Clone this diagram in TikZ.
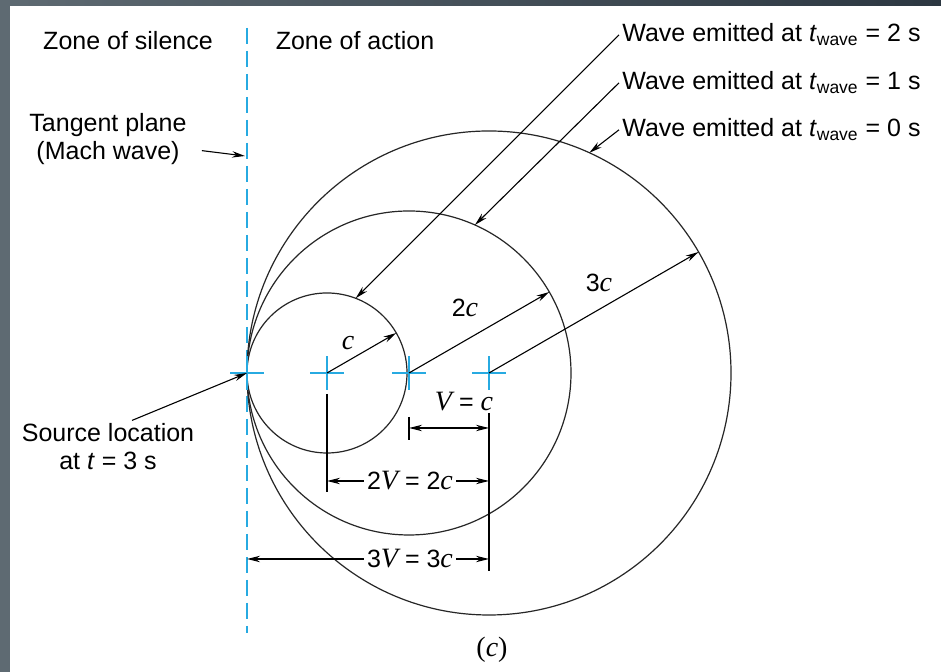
\documentclass[tikz,border=0pt]{standalone}
\usepackage{fontspec}
\setmainfont{Liberation Sans}
\newfontfamily\varfont[Scale=1.12]{Liberation Serif}
\usepackage{xcolor}
\definecolor{machblue}{HTML}{27AAE1}
\definecolor{frameL}{HTML}{5E6A72}
\definecolor{frameR}{HTML}{2C3741}
\usepackage{tikz}
\usetikzlibrary{arrows.meta, positioning, calc}
\newcommand{\symc}{{\varfont\itshape c}}
\newcommand{\symV}{{\varfont\itshape V}}
\newcommand{\twave}{\textit{t}\textsubscript{wave}}

\begin{document}
\begin{tikzpicture}[x=0.5pt, y=0.5pt, >={Stealth[length=6.5pt, width=3.2pt]},
    lbl/.style={font=\fontsize{12.5}{14}\selectfont, inner sep=1.5pt},
    wavefront/.style={draw=black!85, line width=0.6pt},
    radarrow/.style={->, line width=0.55pt},
    leader/.style={->, line width=0.55pt},
    dimline/.style={line width=0.65pt},
    srcmark/.style={draw=machblue, line width=0.8pt}]

  \shade[left color=frameL, right color=frameR] (0,0) rectangle (941,672);
  \fill[white] (10,0) rectangle (941,666);
  \useasboundingbox (0,0) rectangle (941,672);

  \coordinate (S) at (247,299);
  \coordinate (c2) at (327,299);
  \coordinate (c1) at (409,299);
  \coordinate (c0) at (489,299);
  \coordinate (mtop) at (247,644);
  \coordinate (mbot) at (247,39);

  \draw[machblue, line width=0.75pt, dash pattern=on 8pt off 3.5pt] (mtop) -- (mbot);

  \draw[wavefront] (c2) circle[radius=80];
  \draw[wavefront] (c1) circle[radius=162];
  \draw[wavefront] (c0) circle[radius=242];

  \foreach \p in {S, c2, c1, c0}
    \draw[srcmark] ([xshift=-8.5pt]\p) -- ([xshift=8.5pt]\p)
                   ([yshift=-8.5pt]\p) -- ([yshift=8.5pt]\p);

  \draw[radarrow] (c2) -- ++(30:80);
  \draw[radarrow] (c1) -- ++(30:162);
  \draw[radarrow] (c0) -- ++(30:242);
  \node[lbl] (rc) at (348,329) {\symc};
  \node[lbl] (r2c) at (465,364) {2\symc};
  \node[lbl] (r3c) at (599,389) {3\symc};

  \node[lbl] (silence) at (128,631) {Zone of silence};
  \node[lbl] (action) at (355,631) {Zone of action};

  \node[lbl, align=center] (tangent) at (108,533) {Tangent plane\\(Mach wave)};
  \coordinate (tp) at (245,516);
  \draw[leader, shorten <=6pt] (tangent) -- (tp);

  \node[lbl, align=center] (source) at (108,225) {Source location\\at \textit{t} = 3 s};
  \draw[leader] ([xshift=12pt]source.north) -- (S);

  \node[lbl, anchor=base west] (w2) at (619,630) {Wave emitted at \twave{} = 2 s};
  \node[lbl, anchor=base west] (w1) at (619,582) {Wave emitted at \twave{} = 1 s};
  \node[lbl, anchor=base west] (w0) at (619,535) {Wave emitted at \twave{} = 0 s};
  \coordinate (p2) at ([shift={(69:80)}]c2);
  \coordinate (p1) at ([shift={(66:162)}]c1);
  \coordinate (p0) at ([shift={(65.5:242)}]c0);
  \draw[leader] (w2.west) -- (p2);
  \draw[leader] (w1.west) -- (p1);
  \draw[leader] (w0.west) -- (p0);

  \draw[dimline] ([yshift=-20pt]c0) -- ([yshift=-99pt]c0);
  \draw[dimline] ([yshift=-10.5pt]c2) -- ([yshift=-59.5pt]c2);

  \coordinate (d1l) at (409,244);
  \coordinate (d1r) at (489,244);
  \draw[dimline] ([yshift=5.5pt]d1l) -- ([yshift=-6pt]d1l);
  \draw[dimline, <->] (d1l) -- (d1r);
  \node[lbl] (vc) at (464,270) {\symV{} = \symc};

  \coordinate (d2l) at (327,191);
  \coordinate (d2r) at (489,191);
  \node[lbl] (twoV) at (410,191) {2\symV{} = 2\symc};
  \draw[dimline, ->] (twoV) -- (d2l);
  \draw[dimline, ->] (twoV) -- (d2r);

  \coordinate (d3l) at (247,113);
  \coordinate (d3r) at (489,113);
  \node[lbl] (threeV) at (410,113) {3\symV{} = 3\symc};
  \draw[dimline, ->] (threeV) -- (d3l);
  \draw[dimline, ->] (threeV) -- (d3r);

  \node[lbl] (caption) at (492,22) {{\varfont(\textit{c})}};
\end{tikzpicture}
\end{document}
